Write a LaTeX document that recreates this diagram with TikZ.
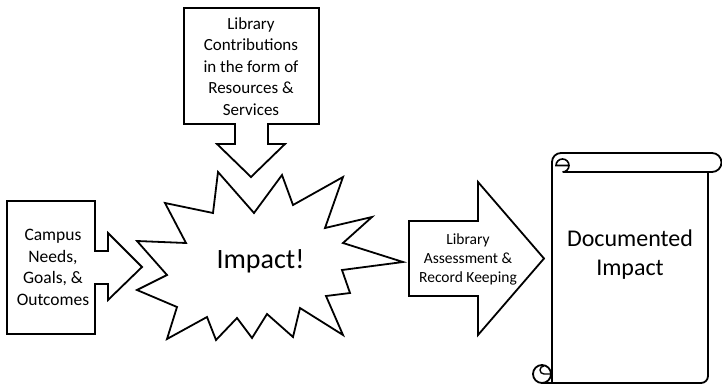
\documentclass[tikz,border=0pt]{standalone}
\usepackage{fontspec}
\setmainfont{Carlito}
\begin{document}
\begin{tikzpicture}[x=1pt,y=1pt,yscale=-1,
  shp/.style={draw=black,line width=1.8pt,line join=miter,fill=white},
  thin/.style={draw=black,line width=1.6pt},
  lbl/.style={align=center,inner sep=0pt,text=black}]
\useasboundingbox (0,0) rectangle (722,385);
% star
\draw[shp] (218,172) -- (213,213) -- (165,203) -- (186,243) -- (137,241) -- (167,275)
  -- (137,290) -- (177,307) -- (167,339) -- (207,317) -- (216,340) -- (237,318)
  -- (252,338) -- (267,314) -- (293,337) -- (300,308) -- (343,335) -- (326,296)
  -- (350,293) -- (342,270) -- (403,262) -- (343,243) -- (372,217) -- (325,228)
  -- (343,177) -- (293,205) -- (282,175) -- (254,213) -- cycle;
\node[lbl,anchor=base,font=\fontsize{28}{34}\selectfont] (impact) at (260.5,268) {Impact!};
% top callout
\draw[shp] (184,8) -- (319,8) -- (319,124) -- (268,124) -- (268,144) -- (285,144)
  -- (251,177) -- (217,144) -- (235,144) -- (235,124) -- (184,124) -- cycle;
\node[lbl,font=\fontsize{17}{21.5}\selectfont] (lib) at (251,66.5)
  {Library\\Contributions\\in the form of\\Resources \&\\Services};
% left callout
\draw[shp] (7,201) -- (95,201) -- (95,251) -- (108,251) -- (108,233) -- (142,267)
  -- (108,300) -- (108,284) -- (95,284) -- (95,334) -- (7,334) -- cycle;
\node[lbl,font=\fontsize{17.5}{21.7}\selectfont] (campus) at (53,267.5)
  {Campus\\Needs,\\Goals, \&\\Outcomes};
% right arrow
\draw[shp] (409,221) -- (478,221) -- (478,182) -- (544,258.5) -- (478,335)
  -- (478,296) -- (409,296) -- cycle;
\node[lbl,font=\fontsize{15.5}{19}\selectfont] (assess) at (468,259)
  {Library\\Assessment \&\\Record Keeping};
% scroll
\draw[shp] (552,372) -- (552,162) arc[start angle=180,end angle=270,radius=9]
  -- (712,153) arc[start angle=-90,end angle=90,radius=9.5] -- (708,172)
  -- (708,376) arc[start angle=0,end angle=90,radius=7] -- (542,383) -- (552,383) -- cycle;
\draw[thin] (562.5,172) -- (712,172);
\draw[thin] (562.5,172) arc[start angle=90,end angle=-180,radius=6.5] -- (569,165.5);
\draw[shp] (542,374) circle[radius=9];
\draw[draw=black,line width=1.4pt] (552,374) -- (544,374) arc[start angle=90,end angle=270,radius=4];
\draw[thin] (552,365) -- (552,383);
\node[lbl,font=\fontsize{24}{29.3}\selectfont] (doc) at (630,254.5) {Documented\\Impact};
\end{tikzpicture}
\end{document}
